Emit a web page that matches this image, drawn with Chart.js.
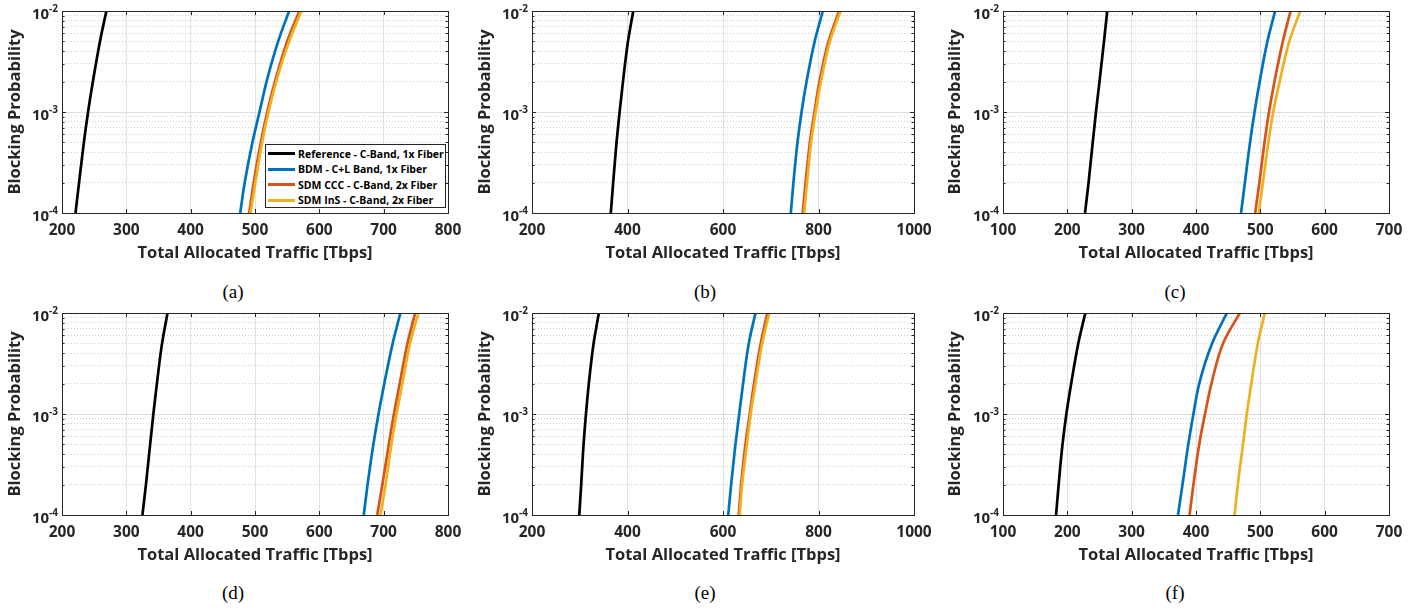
<!DOCTYPE html>
<html>
<head>
<meta charset="utf-8">
<script src="https://cdn.jsdelivr.net/npm/chart.js@4.4.1/dist/chart.umd.min.js"></script>
<style>
  html, body { margin: 0; padding: 0; background: #ffffff; }
  body { width: 1421px; height: 610px; position: relative; overflow: hidden; }
  .panel { position: absolute; }
  .panel canvas { display: block; }
  .cap { position: absolute; font-family: 'Liberation Serif', 'Times New Roman', serif; font-size: 19px; color: #000; transform: translate(-50%, -50%); white-space: nowrap; }
  #legend { position: absolute; background: #fff; border: 1px solid #262626; box-sizing: border-box;
            font-family: 'Open Sans', sans-serif; font-weight: bold; font-size: 10.5px; color: #000; padding-top: 1px; }
  #legend .row { display: flex; align-items: center; height: 15.5px; white-space: nowrap; }
  #legend .swatch { width: 27px; height: 3px; margin-left: 2px; margin-right: 3px; flex: none; }
</style>
</head>
<body>
<script>
// ---------------- data ----------------
const probLevels = [1e-4, 2e-4, 5e-4, 1e-3, 2e-3, 5e-3, 1e-2];

const seriesLabels = [
  'Reference - C-Band, 1x Fiber',
  'BDM - C+L Band, 1x Fiber',
  'SDM CCC - C-Band, 2x Fiber',
  'SDM InS - C-Band, 2x Fiber'
];
const seriesColors = ['#000000', '#0072BD', '#D95319', '#EDB120'];

const yMajorTicks = [1e-4, 1e-3, 1e-2];
const yTickBase = ['10', '10', '10'];
const yTickExp = ['-4', '-3', '-2'];
const yMinorTicks = [2e-4, 3e-4, 4e-4, 5e-4, 6e-4, 7e-4, 8e-4, 9e-4,
                     2e-3, 3e-3, 4e-3, 5e-3, 6e-3, 7e-3, 8e-3, 9e-3];

const panelCaptions = ['(a)', '(b)', '(c)', '(d)', '(e)', '(f)'];
const xMins  = [200, 200, 100, 200, 200, 100];
const xMaxs  = [800, 1000, 700, 800, 1000, 700];
const xSteps = [100, 200, 100, 100, 200, 100];

// (a)
const refA = [221, 226.5, 234, 240.5, 248, 259, 269];
const bdmA = [477, 484, 496, 507, 518, 536, 553];
const cccA = [491, 498, 509, 519, 531, 550, 569];
const insA = [493, 500.5, 511, 521, 533, 553, 572];
// (b)
const refB = [365, 370, 377, 383.5, 390.5, 401, 412];
const bdmB = [742, 747.5, 756, 764.5, 775, 792, 809];
const cccB = [767, 773, 782, 791.5, 802, 821, 843];
const insB = [770, 776, 784.5, 794, 805, 824, 846];
// (c)
const refC = [227.5, 233, 239.5, 244.5, 250, 257, 262];
const bdmC = [470, 476, 484, 491, 499, 511, 523];
const cccC = [492, 498.5, 506.5, 513.5, 522, 535, 547];
const insC = [497.5, 504, 512.5, 520, 530, 545, 562];
// (d)
const refD = [325, 330.5, 337, 342, 347.5, 355.5, 364];
const bdmD = [669, 675, 684, 692, 701, 714, 726];
const cccD = [690, 698, 708, 716, 725, 737, 749];
const insD = [695, 703, 712, 720, 729, 741, 754];
// (e)
const refE = [299, 303, 308, 313, 319, 329, 340];
const bdmE = [611, 617, 626, 634, 642, 654, 668];
const cccE = [633, 638, 647, 656, 665, 679, 693];
const insE = [635, 640, 650, 658, 668, 682, 697];
// (f)
const refF = [182.5, 186.5, 192.5, 198.5, 206, 217, 228];
const bdmF = [372, 379, 388, 396, 405, 425, 448];
const cccF = [390, 396, 405, 414, 424, 442, 468];
const insF = [460, 465, 473, 479, 486, 496, 507];

const panelSeries = [
  [refA, bdmA, cccA, insA],
  [refB, bdmB, cccB, insB],
  [refC, bdmC, cccC, insC],
  [refD, bdmD, cccD, insD],
  [refE, bdmE, cccE, insE],
  [refF, bdmF, cccF, insF]
];

// ---------------- layout (style only) ----------------
const colLeft   = [0, 470, 940];
const colWidth  = [470, 470, 481];
const colYAxisW = [62, 62, 63];
const colPadR   = [22, 26, 32];
const rowTop    = [0, 302];
const capX      = [233, 705, 1175];
const capY      = [292, 593];

const axisColor = '#262626';
const FONT = "'Open Sans', 'Noto Sans', sans-serif";

Chart.defaults.font.family = FONT;
Chart.defaults.color = axisColor;

const boxPlugin = {
  id: 'matlabBox',
  afterDatasetsDraw(chart) {
    const {ctx, chartArea: a, scales} = chart;
    const y = scales.y, x = scales.x;
    ctx.save();
    ctx.strokeStyle = axisColor;
    ctx.lineWidth = 1;
    ctx.beginPath();
    yMajorTicks.concat(yMinorTicks).forEach(v => {
      const len = yMajorTicks.includes(v) ? 4 : 2.5;
      const py = Math.round(y.getPixelForValue(v)) + 0.5;
      ctx.moveTo(a.left, py); ctx.lineTo(a.left + len, py);
      ctx.moveTo(a.right, py); ctx.lineTo(a.right - len, py);
    });
    x.ticks.forEach(t => {
      const px = Math.round(x.getPixelForValue(t.value)) + 0.5;
      ctx.moveTo(px, a.bottom); ctx.lineTo(px, a.bottom - 4);
      ctx.moveTo(px, a.top); ctx.lineTo(px, a.top + 4);
    });
    ctx.stroke();
    ctx.strokeRect(Math.round(a.left) + 0.5, Math.round(a.top) + 0.5,
                   Math.round(a.right - a.left), Math.round(a.bottom - a.top));
    // y tick labels with superscript exponents
    ctx.fillStyle = axisColor;
    ctx.textAlign = 'right';
    ctx.textBaseline = 'alphabetic';
    yMajorTicks.forEach((v, i) => {
      const py = y.getPixelForValue(v);
      ctx.font = 'bold 10px ' + FONT;
      const ew = ctx.measureText(yTickExp[i]).width;
      ctx.fillText(yTickExp[i], a.left - 4, py + 1);
      ctx.font = 'bold 15px ' + FONT;
      ctx.fillText(yTickBase[i], a.left - 4 - ew, py + 7.5);
    });
    ctx.restore();
  }
};

const drawOrder = [3, 2, 1, 0]; // later series on top

for (let p = 0; p < 6; p++) {
  const col = p % 3, row = Math.floor(p / 3);
  const div = document.createElement('div');
  div.className = 'panel';
  div.style.left = colLeft[col] + 'px';
  div.style.top = rowTop[row] + 'px';
  div.style.width = colWidth[col] + 'px';
  div.style.height = '268px';
  const cv = document.createElement('canvas');
  div.appendChild(cv);
  document.body.appendChild(div);

  const cap = document.createElement('div');
  cap.className = 'cap';
  cap.textContent = panelCaptions[p];
  cap.style.left = capX[col] + 'px';
  cap.style.top = capY[row] + 'px';
  document.body.appendChild(cap);

  const datasets = panelSeries[p].map((arr, i) => ({
    label: seriesLabels[i],
    data: arr.map((xv, k) => ({x: xv, y: probLevels[k]})),
    borderColor: seriesColors[i],
    backgroundColor: seriesColors[i],
    borderWidth: 2.7,
    pointRadius: 0,
    fill: false,
    cubicInterpolationMode: 'monotone',
    order: drawOrder[i]
  }));

  new Chart(cv, {
    type: 'line',
    data: { datasets },
    options: {
      indexAxis: 'y',
      responsive: true,
      maintainAspectRatio: false,
      animation: false,
      events: [],
      layout: { padding: { left: 0, right: colPadR[col], top: 11, bottom: 0 } },
      plugins: { legend: { display: false }, tooltip: { enabled: false } },
      scales: {
        x: {
          type: 'linear',
          position: 'bottom',
          min: xMins[p], max: xMaxs[p],
          ticks: { stepSize: xSteps[p], padding: 8, color: axisColor,
                   font: { size: 15.5, weight: 'bold', family: FONT },
                   callback: v => String(v) },
          grid: { color: '#e2e2e2', lineWidth: 1, drawTicks: false },
          border: { display: false },
          title: { display: true, text: 'Total Allocated Traffic [Tbps]', color: axisColor,
                   font: { size: 16.5, weight: 'bold', family: FONT }, padding: { top: 0, bottom: 5 } },
          afterFit: s => { s.height = 55; }
        },
        y: {
          type: 'logarithmic',
          position: 'left',
          min: 1e-4, max: 1e-2,
          afterBuildTicks: s => { s.ticks = yMajorTicks.map(v => ({value: v})); },
          ticks: { display: false, autoSkip: false },
          grid: { color: '#dcdcdc', lineWidth: 1, drawTicks: false },
          border: { display: false },
          title: { display: true, text: 'Blocking Probability', color: axisColor,
                   font: { size: 16.5, weight: 'bold', family: FONT }, padding: { top: 5, bottom: 0 } },
          afterFit: s => { s.width = colYAxisW[col]; }
        },
        yMinor: {
          type: 'logarithmic',
          position: 'right',
          min: 1e-4, max: 1e-2,
          afterBuildTicks: s => { s.ticks = yMinorTicks.map(v => ({value: v})); },
          ticks: { display: false },
          grid: { color: '#cfcfcf', lineWidth: 1, drawTicks: false },
          border: { display: false, dash: [1, 2] },
          afterFit: s => { s.width = 0; }
        }
      }
    },
    plugins: [boxPlugin]
  });
}

// legend for panel (a), built from the series labels/colours
const lg = document.createElement('div');
lg.id = 'legend';
lg.style.left = '265px';
lg.style.top = '144px';
lg.style.width = '181px';
lg.style.height = '64px';
seriesLabels.forEach((lab, i) => {
  const r = document.createElement('div');
  r.className = 'row';
  const sw = document.createElement('span');
  sw.className = 'swatch';
  sw.style.background = seriesColors[i];
  const tx = document.createElement('span');
  tx.textContent = lab;
  r.appendChild(sw); r.appendChild(tx);
  lg.appendChild(r);
});
document.body.appendChild(lg);
</script>
</body>
</html>
